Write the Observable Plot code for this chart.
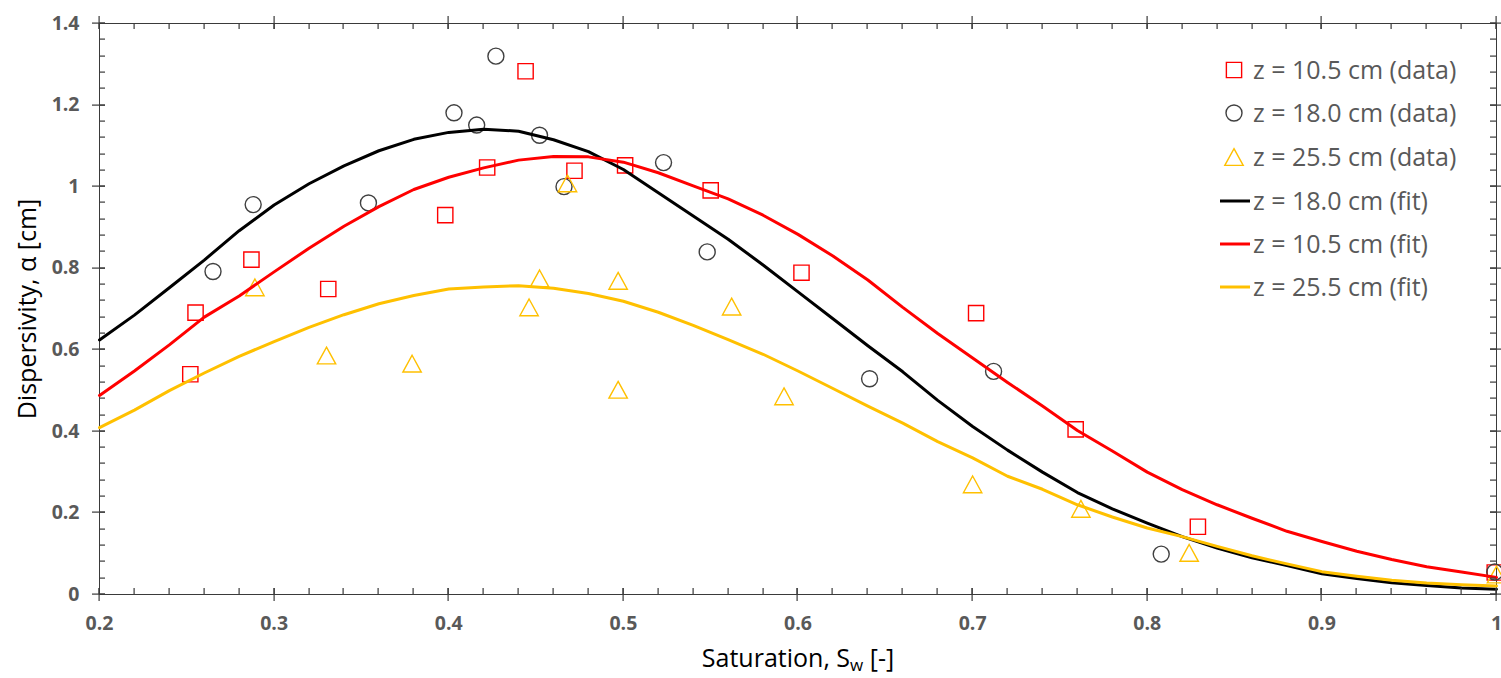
<!DOCTYPE html>
<html><head><meta charset="utf-8">
<script src="https://cdn.jsdelivr.net/npm/d3@7"></script>
<script src="https://cdn.jsdelivr.net/npm/@observablehq/plot@0.6"></script>
<style>
html,body{margin:0;padding:0;background:#fff;}
#chart{width:1501px;height:678px;overflow:hidden;}
</style></head><body><div id="chart"></div>
<script>
// ---------- data ----------
const sw10_5    = [0.252,0.255,0.287,0.331,0.398,0.422,0.444,0.472,0.501,0.550,0.602,0.702,0.759,0.829,0.999];
const alpha10_5 = [0.540,0.691,0.821,0.749,0.930,1.047,1.283,1.039,1.052,0.991,0.789,0.690,0.405,0.166,0.054];
const sw18      = [0.265,0.288,0.354,0.403,0.416,0.427,0.452,0.466,0.523,0.548,0.641,0.712,0.808,0.999];
const alpha18   = [0.792,0.956,0.960,1.181,1.151,1.320,1.126,1.000,1.059,0.840,0.529,0.547,0.099,0.055];
const sw25_5    = [0.289,0.330,0.379,0.446,0.452,0.468,0.497,0.497,0.562,0.592,0.700,0.762,0.824,1.000];
const alpha25_5 = [0.753,0.586,0.566,0.704,0.775,1.008,0.769,0.502,0.706,0.486,0.270,0.210,0.102,0.049];

const fitSw   = [0.20,0.22,0.24,0.26,0.28,0.30,0.32,0.34,0.36,0.38,0.40,0.42,0.44,0.46,0.48,0.50,0.52,0.54,0.56,0.58,0.60,0.62,0.64,0.66,0.68,0.70,0.72,0.74,0.76,0.78,0.80,0.82,0.84,0.86,0.88,0.90,0.92,0.94,0.96,0.98,1.00];
const fit18   = [0.624,0.685,0.752,0.820,0.892,0.955,1.007,1.051,1.088,1.116,1.133,1.141,1.136,1.115,1.086,1.042,0.985,0.928,0.871,0.808,0.742,0.676,0.610,0.546,0.476,0.412,0.354,0.300,0.250,0.210,0.175,0.142,0.114,0.090,0.071,0.051,0.039,0.029,0.022,0.016,0.013];
const fit10_5 = [0.488,0.548,0.612,0.680,0.732,0.791,0.849,0.903,0.951,0.993,1.023,1.046,1.065,1.074,1.073,1.060,1.034,1.002,0.970,0.930,0.883,0.830,0.771,0.704,0.640,0.580,0.520,0.462,0.402,0.352,0.300,0.257,0.220,0.187,0.155,0.130,0.106,0.086,0.068,0.055,0.042];
const fit25_5 = [0.409,0.452,0.500,0.543,0.584,0.620,0.655,0.686,0.713,0.733,0.749,0.754,0.757,0.751,0.738,0.719,0.692,0.660,0.625,0.589,0.548,0.505,0.462,0.420,0.375,0.335,0.290,0.258,0.220,0.190,0.163,0.142,0.118,0.095,0.075,0.056,0.045,0.035,0.028,0.024,0.021];

const xTicks = [0.2,0.3,0.4,0.5,0.6,0.7,0.8,0.9,1.0];
const xTickLabels = ["0.2","0.3","0.4","0.5","0.6","0.7","0.8","0.9","1"];
const yTicks = [0,0.2,0.4,0.6,0.8,1.0,1.2,1.4];
const yTickLabels = ["0","0.2","0.4","0.6","0.8","1","1.2","1.4"];

const legendLabels = ["z = 10.5 cm (data)","z = 18.0 cm (data)","z = 25.5 cm (data)","z = 18.0 cm (fit)","z = 10.5 cm (fit)","z = 25.5 cm (fit)"];

const xTitle = ["Saturation, S", "w", " [-]"];
const yTitle = "Dispersivity, α [cm]";

// ---------- styles ----------
const RED = "#FF0000", DARK = "#404040", GOLD = "#FFC000", BLACK = "#000000";
const AXIS = "#3a3a3a", TICKTXT = "#595959";
const FONT = "'Open Sans', 'Noto Sans', sans-serif";

const xMinor = d3.range(0, 41).map(i => +(0.2 + i * 0.02).toFixed(2));
const yMinor = d3.range(0, 36).map(i => +(i * 0.04).toFixed(2));

const triangleSym = {
  draw(ctx, size) {
    const r = Math.sqrt(size / Math.PI);
    const hw = r * 1.15, hh = r * 1.05;
    ctx.moveTo(0, -hh); ctx.lineTo(hw, hh); ctx.lineTo(-hw, hh); ctx.closePath();
  }
};

const pts = (xs, ys) => xs.map((x, i) => ({x, y: ys[i]}));

const W = 1501, H = 678;
const ML = 99, MR = 5, MT = 23, MB = 84;
const TK = 6, TKO = 7;

// tick marks as thin rectangles (x1..x2, y1..y2 in pixels derived from the scales)
const xs0 = d3.scaleLinear().domain([0.2, 1.0]).range([ML, W - MR]);
const ys0 = d3.scaleLinear().domain([0, 1.4]).range([H - MB, MT]);
const tickRects = [];
const addV = (v, y1, y2) => tickRects.push({x: Math.round(xs0(v)) - 0.5, y: y1, w: 1.2, h: y2 - y1});
const addH = (v, x1, x2) => tickRects.push({x: x1, y: Math.round(ys0(v)) - 0.5, w: x2 - x1, h: 1.2});
const yB = H - MB, yT = MT, xL = ML, xR = W - MR;
xMinor.forEach(v => { addV(v, yB - TK, yB); addV(v, yT, yT + TK); });
xTicks.forEach(v => { addV(v, yB - TK, yB + TKO); addV(v, yT - TKO, yT + TK); });
yMinor.forEach(v => { addH(v, xL, xL + TK); addH(v, xR - TK, xR); });
yTicks.forEach(v => { addH(v, xL - TKO, xL + TK); addH(v, xR - TK, xR + TKO); });

const svg = Plot.plot({
  width: W, height: H,
  marginLeft: ML, marginRight: MR, marginTop: MT, marginBottom: MB,
  style: {fontFamily: FONT, background: "#fff", overflow: "visible"},
  x: {domain: [0.2, 1.0], axis: null, label: null},
  y: {domain: [0, 1.4], axis: null, label: null},
  marks: [
    Plot.frame({stroke: AXIS}),
    // tick labels
    Plot.axisX({anchor: "bottom", ticks: xTicks, tickSize: 0, tickPadding: 22, tickFormat: d => xTickLabels[xTicks.indexOf(d)],
                fill: TICKTXT, fontSize: 19.5, fontWeight: "bold", label: null}),
    Plot.axisY({anchor: "left", ticks: yTicks, tickSize: 0, tickPadding: 20, tickFormat: d => yTickLabels[yTicks.indexOf(d)],
                fill: TICKTXT, fontSize: 19.5, fontWeight: "bold", label: null}),
    // data
    Plot.dot(pts(sw10_5, alpha10_5), {x: "x", y: "y", symbol: "square", r: 8.6, stroke: RED, strokeWidth: 1.4, fill: "none"}),
    Plot.dot(pts(sw18, alpha18), {x: "x", y: "y", symbol: "circle", r: 8, stroke: DARK, strokeWidth: 1.4, fill: "none"}),
    Plot.dot(pts(sw25_5, alpha25_5), {x: "x", y: "y", symbol: triangleSym, r: 8, stroke: GOLD, strokeWidth: 1.4, fill: "none"}),
    // fits
    Plot.line(pts(fitSw, fit18), {x: "x", y: "y", stroke: BLACK, strokeWidth: 3}),
    Plot.line(pts(fitSw, fit10_5), {x: "x", y: "y", stroke: RED, strokeWidth: 3}),
    Plot.line(pts(fitSw, fit25_5), {x: "x", y: "y", stroke: GOLD, strokeWidth: 3})
  ]
});
document.getElementById("chart").appendChild(svg);

const s = d3.select(svg);

// ---------- tick marks ----------
const tg = s.append("g").attr("fill", AXIS);
tickRects.forEach(r => {
  tg.append("rect").attr("x", r.x).attr("y", r.y).attr("width", r.w).attr("height", r.h).attr("fill", AXIS);
});

// ---------- axis titles ----------
const xt = s.append("text").attr("x", 798).attr("y", 667).attr("text-anchor", "middle")
  .attr("font-family", FONT).attr("font-size", 25).attr("fill", "#000");
xt.append("tspan").text(xTitle[0]);
xt.append("tspan").attr("font-size", 17).attr("dy", 4).text(xTitle[1]);
xt.append("tspan").attr("dy", -4).text(xTitle[2]);

s.append("text").attr("transform", "translate(36,309) rotate(-90)").attr("text-anchor", "middle")
  .attr("font-family", FONT).attr("font-size", 25).attr("fill", "#000").text(yTitle);

// ---------- legend ----------
const lgX = 1234, lgText = 1253, rows = [70, 113, 157, 201, 244, 287];
const lg = s.append("g");
const symSq = d3.symbol(d3.symbolSquare, 8.6 * 8.6 * Math.PI)();
const symCi = d3.symbol(d3.symbolCircle, 8 * 8 * Math.PI)();
const symTr = d3.symbol(triangleSym, 8 * 8 * Math.PI)();
const legendMarks = [
  {type: "sym", d: symSq, color: RED},
  {type: "sym", d: symCi, color: DARK},
  {type: "sym", d: symTr, color: GOLD},
  {type: "line", color: BLACK},
  {type: "line", color: RED},
  {type: "line", color: GOLD}
];
legendMarks.forEach((m, i) => {
  const y = rows[i];
  if (m.type === "sym") {
    lg.append("path").attr("d", m.d).attr("transform", `translate(${lgX},${y})`)
      .attr("fill", "none").attr("stroke", m.color).attr("stroke-width", 1.4);
  } else {
    lg.append("line").attr("x1", 1220).attr("x2", 1250).attr("y1", y).attr("y2", y)
      .attr("stroke", m.color).attr("stroke-width", 3);
  }
  lg.append("text").attr("x", lgText).attr("y", y).attr("dy", "0.35em").attr("text-anchor", "start")
    .attr("font-family", FONT).attr("font-size", 25).attr("fill", TICKTXT).text(legendLabels[i]);
});
</script>
</body></html>
